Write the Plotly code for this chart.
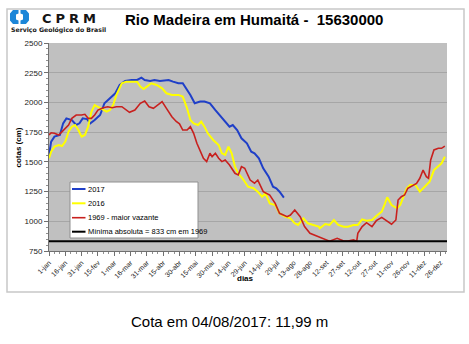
import plotly.graph_objects as go

# Eixo de dias (ano bissexto): 1-jan = 0 ... 31-dez = 365
tick_days = list(range(0, 361, 15))
tick_labels = ["1-jan", "16-jan", "31-jan", "15-fev", "1-mar", "16-mar", "31-mar",
               "15-abr", "30-abr", "15-mai", "30-mai", "14-jun", "29-jun", "14-jul",
               "29-jul", "13-ago", "28-ago", "12-set", "27-set", "12-out", "27-out",
               "11-nov", "26-nov", "11-dez", "26-dez"]

# Cotas (cm) - 2017
dias_2017 = [0, 2, 5, 10, 13, 16, 21, 25, 28, 31, 35, 38, 42, 47, 51, 56, 61, 65, 70,
             76, 81, 85, 88, 93, 97, 102, 110, 114, 119, 123, 125, 130, 134, 139, 143,
             148, 153, 157, 162, 166, 169, 173, 177, 182, 186, 189, 193, 197, 202, 206,
             209, 212, 216]
cota_2017 = [1558, 1670, 1712, 1726, 1824, 1866, 1852, 1810, 1824, 1866, 1860, 1824,
             1852, 1894, 1993, 2035, 2077, 2147, 2180, 2189, 2189, 2208, 2189, 2180,
             2189, 2180, 2189, 2175, 2161, 2161, 2133, 2063, 1993, 2007, 2007, 1993,
             1936, 1894, 1838, 1796, 1810, 1768, 1698, 1656, 1586, 1572, 1530, 1446,
             1375, 1291, 1278, 1249, 1199]

# Cotas (cm) - 2016
dias_2016 = [0, 2, 5, 9, 12, 15, 18, 21, 24, 27, 30, 33, 36, 39, 42, 45, 48, 53, 56,
             59, 62, 67, 71, 76, 81, 84, 87, 90, 94, 99, 104, 108, 113, 119, 123, 127,
             130, 133, 137, 140, 143, 146, 151, 156, 159, 162, 165, 168, 171, 174, 179,
             183, 188, 192, 196, 199, 203, 208, 212, 217, 222, 226, 229, 234, 238, 243,
             248, 249, 254, 258, 262, 266, 271, 275, 280, 284, 288, 292, 297, 301, 306,
             309, 311, 315, 320, 323, 326, 329, 332, 337, 341, 346, 350, 354, 358, 361,
             364]
cota_2016 = [1530, 1586, 1628, 1642, 1633, 1670, 1754, 1796, 1810, 1768, 1712, 1726,
             1796, 1922, 1978, 1964, 1950, 1922, 1936, 1978, 2063, 2161, 2175, 2175,
             2175, 2133, 2113, 2133, 2161, 2147, 2119, 2077, 2063, 2063, 2049, 1950,
             1852, 1824, 1810, 1838, 1796, 1740, 1684, 1642, 1572, 1558, 1628, 1572,
             1460, 1404, 1347, 1291, 1278, 1249, 1207, 1236, 1151, 1137, 1067, 1039,
             1025, 983, 969, 1025, 983, 969, 955, 941, 977, 969, 1011, 969, 955, 955,
             969, 969, 1016, 1005, 1011, 1045, 1081, 1151, 1202, 1137, 1109, 1137,
             1207, 1278, 1305, 1305, 1249, 1291, 1333, 1431, 1460, 1488, 1544]

# Cotas (cm) - 1969, ano da maior vazante
dias_1969 = [0, 2, 5, 9, 12, 15, 18, 21, 25, 30, 33, 36, 39, 42, 45, 50, 54, 58, 62,
             67, 70, 74, 79, 84, 88, 92, 96, 100, 104, 108, 113, 117, 120, 123, 127,
             130, 133, 136, 139, 142, 145, 148, 150, 153, 156, 159, 162, 166, 171, 174,
             177, 180, 185, 189, 192, 197, 203, 208, 212, 219, 222, 226, 231, 235, 240,
             246, 252, 258, 265, 271, 275, 280, 283, 284, 288, 292, 297, 301, 306, 310,
             315, 319, 321, 324, 327, 330, 335, 338, 341, 344, 347, 349, 351, 354, 358,
             361, 364]
cota_1969 = [1726, 1745, 1740, 1726, 1754, 1782, 1810, 1866, 1894, 1894, 1900, 1866,
             1866, 1894, 1936, 1956, 1964, 1956, 1964, 1964, 1945, 1917, 1936, 1993,
             2012, 1964, 1950, 1978, 2007, 1950, 1880, 1840, 1820, 1768, 1768, 1796,
             1740, 1656, 1586, 1530, 1502, 1572, 1544, 1572, 1530, 1502, 1516, 1474,
             1404, 1390, 1460, 1446, 1347, 1320, 1347, 1249, 1221, 1151, 1067, 1039,
             1053, 1095, 1039, 955, 899, 876, 857, 833, 857, 834, 834, 843, 833, 899,
             955, 988, 955, 1005, 1033, 1005, 975, 1011, 1179, 1207, 1221, 1278, 1305,
             1319, 1362, 1431, 1375, 1362, 1516, 1600, 1614, 1614, 1633]

# Mínima absoluta registrada (1969)
minima_absoluta = 833
dias_minima = [0, 366]

data_ultima = "04/08/2017"

series = [
    ("2017", dias_2017, cota_2017, "#1f3fc8", 2.0),
    ("2016", dias_2016, cota_2016, "#ffff00", 2.0),
    ("1969 - maior vazante", dias_1969, cota_1969, "#c8201e", 1.6),
    ("Mínima absoluta = %d cm em 1969" % minima_absoluta, dias_minima,
     [minima_absoluta, minima_absoluta], "#000000", 2.0),
]

W, H = 469, 344
L, R, T, B = 49, 447, 43, 251


def px(x):
    return (x - L) / (R - L)


def py(y):
    return (B - y) / (B - T)


def path(points):
    s = "M " + " L ".join("%.4f,%.4f" % (px(x), py(y)) for x, y in points)
    return s + " Z"


fig = go.Figure()
for name, xs, ys, color, width in series:
    fig.add_trace(go.Scatter(x=xs, y=ys, mode="lines", name=name,
                             line=dict(color=color, width=width),
                             showlegend=False))

shapes = []
annotations = []

# moldura do quadro
shapes.append(dict(type="rect", xref="paper", yref="paper",
                   x0=px(7), x1=px(464), y0=py(292), y1=py(9),
                   line=dict(color="#c8c8c8", width=1.5), layer="below"))

# logotipo
blue = "#1c86d8"
left_piece = [(18.5, 10), (13, 10), (10, 13.5), (10, 20.5), (13, 24), (18.5, 24),
              (18.5, 20.5), (16, 19.5), (16, 14.5), (18.5, 13.5)]
right_piece = [(39 - x, y) for x, y in left_piece]
for pts in (left_piece, right_piece):
    shapes.append(dict(type="path", xref="paper", yref="paper", path=path(pts),
                       fillcolor=blue, line=dict(width=0)))

annotations.append(dict(xref="paper", yref="paper", x=px(40), y=py(18.5),
                        xanchor="left", yanchor="middle", showarrow=False,
                        text="<b><span style='letter-spacing:4px'>CPRM</span></b>",
                        font=dict(family="DejaVu Sans", size=13, color="#151515")))
annotations.append(dict(xref="paper", yref="paper", x=px(9), y=py(30),
                        xanchor="left", yanchor="middle", showarrow=False,
                        text="<b>Serviço Geológico do Brasil</b>",
                        font=dict(family="DejaVu Sans", size=6.2, color="#151515")))

# título
annotations.append(dict(xref="paper", yref="paper", x=px(123), y=py(20),
                        xanchor="left", yanchor="middle", showarrow=False,
                        text="<b>Rio Madeira em Humaitá -  15630000</b>",
                        font=dict(family="Liberation Sans", size=15, color="#000000")))

# títulos dos eixos
annotations.append(dict(xref="paper", yref="paper", x=px(17.5), y=py(148),
                        xanchor="center", yanchor="middle", showarrow=False,
                        textangle=-90, text="<b>cotas (cm)</b>",
                        font=dict(family="Liberation Sans", size=8, color="#000000")))
annotations.append(dict(xref="paper", yref="paper", x=px(245), y=py(278),
                        xanchor="center", yanchor="middle", showarrow=False,
                        text="<b>dias</b>",
                        font=dict(family="Liberation Sans", size=8, color="#000000")))

# legenda
shapes.append(dict(type="rect", xref="paper", yref="paper",
                   x0=px(70), x1=px(198), y0=py(238), y1=py(182),
                   fillcolor="white", line=dict(color="#909090", width=1)))
leg_y = [189, 203.3, 217.7, 231.7]
for (name, xs, ys, color, width), yy in zip(series, leg_y):
    shapes.append(dict(type="line", xref="paper", yref="paper",
                       x0=px(72), x1=px(85.5), y0=py(yy), y1=py(yy),
                       line=dict(color=color, width=width)))
    annotations.append(dict(xref="paper", yref="paper", x=px(86), y=py(yy),
                            xanchor="left", yanchor="middle", showarrow=False,
                            text=name,
                            font=dict(family="Liberation Sans", size=7.5,
                                      color="#000000")))

# cota mais recente
ultima_m = ("%.2f" % (cota_2017[-1] / 100)).replace(".", ",")
annotations.append(dict(xref="paper", yref="paper", x=px(229), y=py(321),
                        xanchor="center", yanchor="middle", showarrow=False,
                        text="Cota em %s: %s m" % (data_ultima, ultima_m),
                        font=dict(family="Liberation Sans", size=15, color="#000000")))

fig.update_layout(
    width=W, height=H,
    margin=dict(l=L, r=W - R, t=T, b=H - B, pad=0),
    paper_bgcolor="white",
    plot_bgcolor="#c0c0c0",
    shapes=shapes,
    annotations=annotations,
    showlegend=False,
)

fig.update_xaxes(
    range=[0, 366], tickmode="array", tickvals=tick_days, ticktext=tick_labels,
    tickangle=-45, tickfont=dict(family="Liberation Sans", size=7, color="#222"),
    showgrid=False, zeroline=False, showline=True, linecolor="#707070", linewidth=1,
    ticks="outside", ticklen=4, tickcolor="#707070",
    minor=dict(dtick=5, tick0=0, ticks="outside", ticklen=2, tickcolor="#909090"),
)
fig.update_yaxes(
    range=[750, 2500], dtick=250, tick0=750,
    tickfont=dict(family="Liberation Sans", size=8, color="#222"),
    showgrid=True, gridcolor="#a6a6a6", gridwidth=1, zeroline=False,
    showline=True, linecolor="#707070", linewidth=1,
    ticks="outside", ticklen=4, tickcolor="#707070",
    minor=dict(dtick=50, ticks="outside", ticklen=2, tickcolor="#909090"),
)

fig.write_html("out.html")
